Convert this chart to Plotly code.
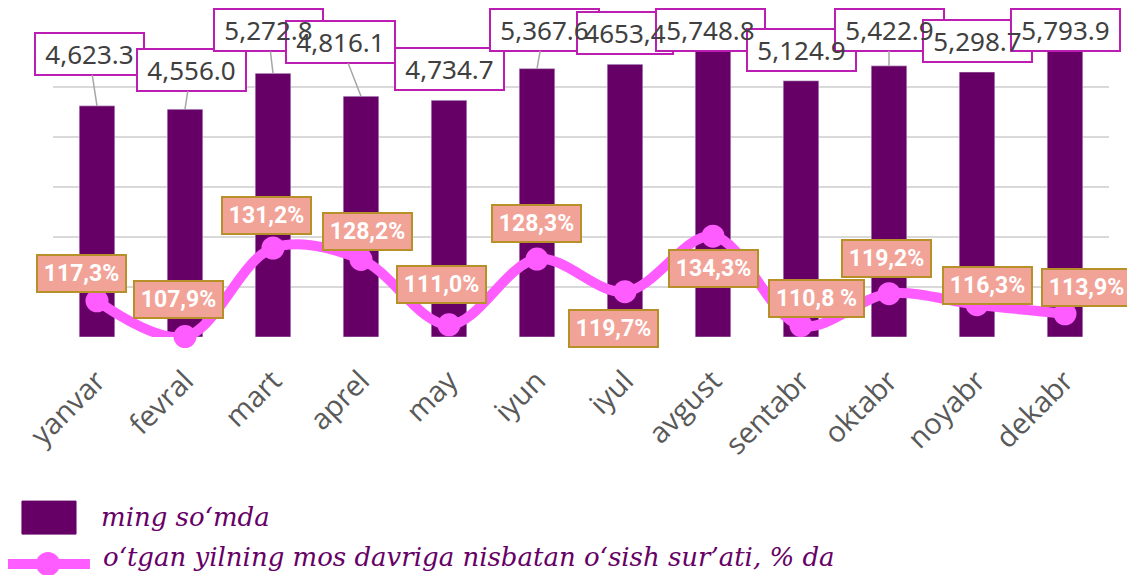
import plotly.graph_objects as go

# ---------------- data ----------------
months = ["yanvar", "fevral", "mart", "aprel", "may", "iyun",
          "iyul", "avgust", "sentabr", "oktabr", "noyabr", "dekabr"]
# bar heights (ming so'mda) - iyul bar height
values = [4623.3, 4556.0, 5272.8, 4816.1, 4734.7, 5367.6,
          5455.0, 5748.8, 5124.9, 5422.9, 5298.7, 5793.9]
value_labels = ["4,623.3", "4,556.0", "5,272.8", "4,816.1", "4,734.7", "5,367.6",
                "4653,4", "5,748.8", "5,124.9", "5,422.9", "5,298.7", "5,793.9"]
growth = [117.3, 107.9, 131.2, 128.2, 111.0, 128.3,
          119.7, 134.3, 110.8, 119.2, 116.3, 113.9]
growth_labels = ["117,3%", "107,9%", "131,2%", "128,2%", "111,0%", "128,3%",
                 "119,7%", "134,3%", "110,8 %", "119,2%", "116,3%", "113,9%"]

# ---------------- label placement (pixel offsets, style only) ----------------
bar_dx = [-8, 6, -5, -21, 0, 7, 0, -3, 0, 0, 0, 0]
bar_dy = [-52, -39, -43, -54, -31, -39, -31, -20, -31, -36, -31, -17]
bar_leader = [True, True, True, True, False, True, False, False, False, True, False, False]
pct_dx = [-16, -7, -7, 6, -8, -1, -12, 0, 15, -3, 10, 21]
pct_dy = [-27, -37, -33, -28, -40, -36, 37, 32, -27, -35, -19, -26]

BAR_COLOR = "#660066"
LINE_COLOR = "#FF5CFF"
MAGENTA = "#BC1DB3"
PCT_FILL = "#F2A398"
PCT_BORDER = "#B8902A"

fig = go.Figure()
fig.add_trace(go.Bar(x=months, y=values, marker_color=BAR_COLOR, width=0.405,
                     name="ming so‘mda", showlegend=False))
fig.add_trace(go.Scatter(x=months, y=growth, yaxis="y2", mode="lines+markers",
                         line=dict(color=LINE_COLOR, width=10, shape="spline", smoothing=1.0),
                         marker=dict(color=LINE_COLOR, size=23),
                         cliponaxis=False, showlegend=False,
                         name="o‘tgan yilning mos davriga nisbatan o‘sish sur’ati, % da"))

annotations = []
# percent labels
for m, g, t, dx, dy in zip(months, growth, growth_labels, pct_dx, pct_dy):
    annotations.append(dict(
        x=m, y=g, xref="x", yref="y2", text=t, showarrow=True,
        arrowcolor="rgba(0,0,0,0)", ax=dx, ay=dy,
        font=dict(family="Roboto", size=23, color="white", weight="bold"),
        bgcolor=PCT_FILL, bordercolor=PCT_BORDER, borderwidth=2, borderpad=1,
        width=49 + 6 * len(t), height=32.5))

# bar value labels: boxes first, then the texts on top
LABEL_FONT = "Noto Sans, DejaVu Sans"
for layer in ("box", "text"):
    for m, v, t, dx, dy, lead in zip(months, values, value_labels, bar_dx, bar_dy, bar_leader):
        a = dict(x=m, y=v, xref="x", yref="y", text=t, showarrow=True,
                 ax=dx, ay=dy, arrowhead=0, arrowwidth=1.5,
                 width=13 * len(t) + 16, height=40, borderpad=0)
        if layer == "box":
            a.update(font=dict(family=LABEL_FONT, size=26, color="rgba(0,0,0,0)"),
                     bgcolor="white", bordercolor=MAGENTA, borderwidth=2,
                     arrowcolor="#A6A6A6" if lead else "rgba(0,0,0,0)")
        else:
            a.update(font=dict(family=LABEL_FONT, size=26, color="#404040"),
                     arrowcolor="rgba(0,0,0,0)", borderwidth=2,
                     bordercolor="rgba(0,0,0,0)")
        annotations.append(a)

# manual legend texts
annotations.append(dict(xref="paper", yref="paper", x=0.0436, y=-0.60, xanchor="left",
                        yanchor="middle", showarrow=False, text="ming so‘mda",
                        font=dict(family="DejaVu Serif", size=26, color="#660066", style="italic")))
annotations.append(dict(xref="paper", yref="paper", x=0.0455, y=-0.733, xanchor="left",
                        yanchor="middle", showarrow=False,
                        text="o‘tgan yilning mos davriga nisbatan o‘sish sur’ati, % da",
                        font=dict(family="DejaVu Serif", size=26, color="#660066", style="italic")))

shapes = [
    dict(type="rect", xref="paper", yref="paper", x0=-0.0294, x1=0.0218, y0=-0.657, y1=-0.547,
         fillcolor=BAR_COLOR, line=dict(color=BAR_COLOR, width=1)),
    dict(type="line", xref="paper", yref="paper", x0=-0.0426, x1=0.035, y0=-0.7567, y1=-0.7567,
         line=dict(color=LINE_COLOR, width=10)),
    dict(type="circle", xref="paper", yref="paper", x0=-0.0161, x1=0.0066, y0=-0.7967, y1=-0.7167,
         fillcolor=LINE_COLOR, line=dict(color=LINE_COLOR, width=0)),
]

fig.update_layout(
    width=1127, height=575,
    margin=dict(l=53, r=18, t=37, b=238, autoexpand=False),
    paper_bgcolor="white", plot_bgcolor="white",
    xaxis=dict(range=[-0.5, 11.5], automargin=False, tickangle=-45,
               tickfont=dict(family="Open Sans", size=29, color="#595959"),
               ticklabelstandoff=20,
               showgrid=False, showline=False, zeroline=False, ticks=""),
    yaxis=dict(range=[0, 6000], dtick=1000, automargin=False, showgrid=True,
               gridcolor="#D9D9D9", gridwidth=2,
               showticklabels=False, zeroline=False, showline=False),
    yaxis2=dict(range=[107.8, 186.68], automargin=False, overlaying="y", side="right",
                showgrid=False, showticklabels=False, zeroline=False, showline=False),
    annotations=annotations, shapes=shapes, showlegend=False,
)

fig.write_html("out.html", config={"displayModeBar": False},
               post_script="document.body.style.margin='0';document.body.style.overflow='hidden';")
